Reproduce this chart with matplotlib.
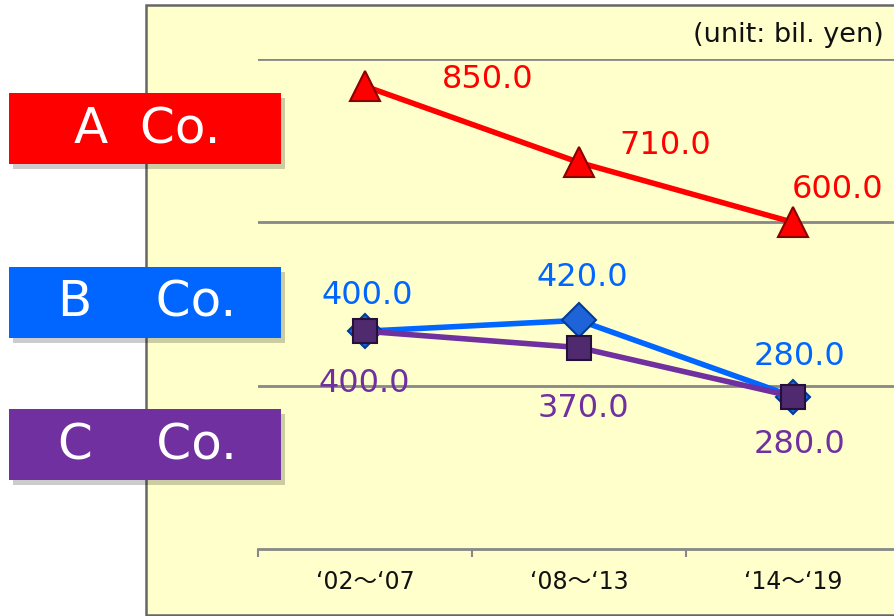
import matplotlib
matplotlib.use("Agg")
import matplotlib.pyplot as plt
from matplotlib.patches import Rectangle
import numpy as np

plt.rcParams['font.family'] = ['DejaVu Sans', 'Noto Sans CJK JP']

# data
periods = ["\u201802\uff5e\u201807", "\u201808\uff5e\u201813", "\u201814\uff5e\u201819"]
a_vals = [850.0, 710.0, 600.0]
b_vals = [400.0, 420.0, 280.0]
c_vals = [400.0, 370.0, 280.0]
names = ["A  Co.", "B    Co.", "C    Co."]
unit_text = "(unit: bil. yen)"

W, H = 895, 616
fig = plt.figure(figsize=(W / 100, H / 100), dpi=100)
fig.patch.set_facecolor('white')


def px(x, y):
    # pixel (top-left origin) -> figure fraction
    return x / W, 1 - y / H


# yellow panel
x0, y0 = px(146, 615)
panel = Rectangle((x0, y0), 1.2, (615 - 5) / H, transform=fig.transFigure,
                  facecolor='#FFFFCC', edgecolor='#666666', lw=1.8, zorder=-5)
fig.add_artist(panel)

# axes area: x 258..900 px, y 59..549 px
ax = fig.add_axes([258 / W, (H - 549) / H, 642 / W, 490 / H])
ax.patch.set_visible(False)
ax.set_xlim(0, 3)
ax.set_ylim(0, 900)
for s in ['left', 'right', 'top']:
    ax.spines[s].set_visible(False)
ax.spines['bottom'].set_color('#888888')
ax.spines['bottom'].set_linewidth(2)
ax.set_yticks([300, 600, 900])
ax.yaxis.grid(True, color='#888888', lw=2)
ax.tick_params(axis='y', left=False, labelleft=False)
ax.set_axisbelow(True)
ax.set_xticks([0, 1, 2, 3])
ax.set_xticklabels([])
ax.tick_params(axis='x', which='major', direction='out', length=6, width=1.5, color='#888888')
ax.set_xticks([0.5, 1.5, 2.5], minor=True)
ax.set_xticklabels(periods, minor=True, fontsize=17, color='#111111')
ax.tick_params(axis='x', which='minor', length=0, pad=15)

xs = np.arange(len(periods)) + 0.5

series = [
    (a_vals, '#FF0000', '^', 21, '#FF0000', '#8B0000',
     [(123, 7), (86, 17), (45, 33)]),
    (b_vals, '#0066FF', 'D', 17, '#1E64D8', '#003C99',
     [(2, 36), (3, 43), (7, 40)]),
    (c_vals, '#7030A0', 's', 17, '#4F2A6E', '#24103A',
     [(-1, -52), (4, -61), (7, -48)]),
]

for vals, col, mk, ms, fc, ec, offs in series:
    ax.plot(xs, vals, color=col, lw=4, marker=mk, ms=ms, mfc=fc, mec=ec,
            mew=1.5, clip_on=False, zorder=3)
    for x, v, (dx, dy) in zip(xs, vals, offs):
        ax.annotate(f"{v:.1f}", (x, v), xytext=(dx, dy), textcoords='offset pixels',
                    ha='center', va='center', fontsize=23, color=col, zorder=4)

fig.text(884 / W, 1 - 35 / H, unit_text, ha='right', va='center', fontsize=19.5,
         color='#111111')

# company label boxes
box_cols = ['#FF0000', '#0066FF', '#7030A0']
box_tops = [93, 267, 409]
for name, col, top in zip(names, box_cols, box_tops):
    bx, by = px(9, top + 71)
    sx, sy = px(13, top + 76)
    fig.add_artist(Rectangle((sx, sy), 272 / W, 71 / H, transform=fig.transFigure,
                             facecolor='#000000', alpha=0.2, lw=0, zorder=4))
    fig.add_artist(Rectangle((bx, by), 272 / W, 71 / H, transform=fig.transFigure,
                             facecolor=col, lw=0, zorder=5))
    tx, ty = px(147, top + 36)
    fig.text(tx, ty, name, ha='center', va='center', fontsize=36, color='white',
             zorder=6)

fig.savefig('out.png', dpi=100)
